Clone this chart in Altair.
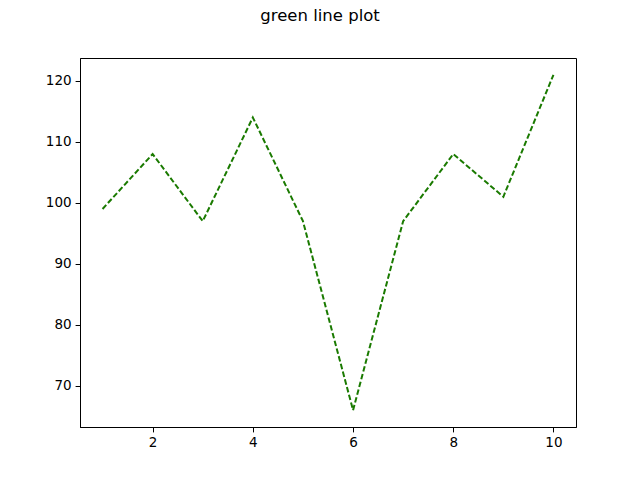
import altair as alt
import pandas as pd

xs = [1, 2, 3, 4, 5, 6, 7, 8, 9, 10]
ys = [99, 108, 97, 114, 97, 66, 97, 108, 101, 121]

df = pd.DataFrame({"x": xs, "y": ys})

chart = alt.Chart(df).mark_line(
    color="#1a7a00", strokeDash=[5.5, 2.5], strokeWidth=2
).encode(
    x=alt.X("x:Q", scale=alt.Scale(domain=[0.55, 10.45], nice=False, zero=False),
            axis=alt.Axis(values=[2, 4, 6, 8, 10], title=None, grid=False)),
    y=alt.Y("y:Q", scale=alt.Scale(domain=[63.25, 123.75], nice=False, zero=False),
            axis=alt.Axis(values=[70, 80, 90, 100, 110, 120], title=None, grid=False)),
).properties(
    width=496, height=369,
    title=alt.TitleParams("green line plot", fontSize=16.5, font="DejaVu Sans",
                          fontWeight="normal", color="black", offset=34, dx=-8),
    padding={"left": 72, "top": 50, "right": 56, "bottom": 45},
    autosize=alt.AutoSizeParams(type="none"),
).configure_view(
    stroke="black", strokeWidth=1
).configure_axis(
    domainColor="black", tickColor="black", tickSize=4.9, labelFontSize=13.5,
    labelFont="DejaVu Sans", labelColor="black", domainWidth=1, tickWidth=1,
    labelPadding=4
)

chart.save("out.html", embed_options={"renderer": "svg", "actions": False})
